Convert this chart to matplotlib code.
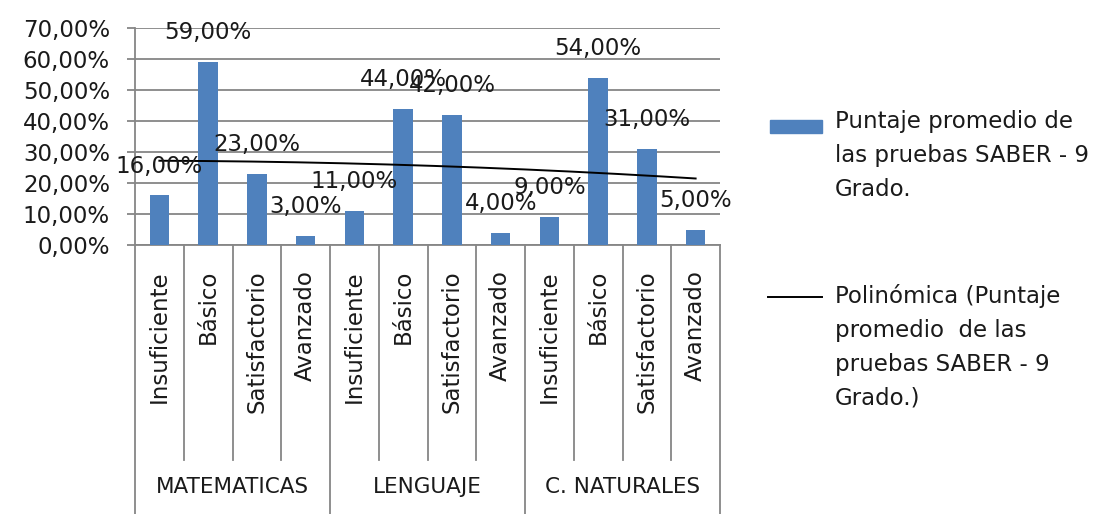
import matplotlib.pyplot as plt
from matplotlib.patches import Rectangle
from matplotlib.lines import Line2D
import numpy as np

# datos del grafico
areas = ["MATEMATICAS", "LENGUAJE", "C. NATURALES"]
niveles = ["Insuficiente", "Básico", "Satisfactorio", "Avanzado"]
matematicas = [0.16, 0.59, 0.23, 0.03]
lenguaje = [0.11, 0.44, 0.42, 0.04]
naturales = [0.09, 0.54, 0.31, 0.05]
yticks = [0.0, 0.1, 0.2, 0.3, 0.4, 0.5, 0.6, 0.7]

serie = "Puntaje promedio de\nlas pruebas SABER - 9\nGrado."
tendencia = "Polinómica (Puntaje\npromedio  de las\npruebas SABER - 9\nGrado.)"

plt.rcParams['font.family'] = ['DejaVu Sans']
fs = 16.5
gris = '#868686'
azul = '#4F81BD'
texto = '#1a1a1a'

valores = matematicas + lenguaje + naturales
n = len(valores)
x = np.arange(n)

fig = plt.figure(figsize=(11.02, 5.14), dpi=100)
W, H = 1102, 514
ax = fig.add_axes([135 / W, (H - 245) / H, (720 - 135) / W, (245 - 28) / H])

ax.bar(x, valores, width=0.4, color=azul, zorder=3)
ax.set_xlim(-0.5, n - 0.5)
ax.set_ylim(0, 0.7)
ax.set_yticks(yticks)
ax.set_yticklabels([f"{v * 100:.2f}%".replace('.', ',') for v in yticks], fontsize=fs, color=texto)
ax.yaxis.grid(True, color=gris, lw=1.3, zorder=0)
ax.tick_params(axis='y', length=6, color=gris, width=1.3, pad=12)
ax.set_xticks([])
for s in ['top', 'right']:
    ax.spines[s].set_visible(False)
ax.spines['left'].set_color(gris)
ax.spines['left'].set_linewidth(1.3)
ax.spines['bottom'].set_color(gris)
ax.spines['bottom'].set_linewidth(1.3)

# etiquetas de datos (Excel las dejo un poco arriba de las barras)
for xi, v in zip(x, valores):
    ax.annotate(f"{v * 100:.2f}%".replace('.', ','), (xi, v), xytext=(0, 21), textcoords='offset points',
                ha='center', va='center', fontsize=fs, color=texto, zorder=5)

# linea de tendencia polinomica (orden 2)
coef = np.polyfit(x + 1, valores, 2)
xs = np.linspace(0, n - 1, 200)
ax.plot(xs, np.polyval(coef, xs + 1), color='black', lw=1.4, zorder=4)

# eje de categorias en dos niveles
ah = 245 - 28
for i in range(n + 1):
    grupo = i % 4 == 0
    y_fin = -(514 - 245) / ah if grupo else -(460 - 245) / ah
    ax.plot([i - 0.5, i - 0.5], [0, y_fin], transform=ax.get_xaxis_transform(),
            color=gris, lw=1.3, clip_on=False)
for i in range(n):
    ax.text(i, -25 / ah, niveles[i % 4], transform=ax.get_xaxis_transform(), rotation=90,
            ha='center', va='top', fontsize=fs, color=texto)
for g, nombre in enumerate(areas):
    ax.text(g * 4 + 1.5, -(487 - 245) / ah, nombre, transform=ax.get_xaxis_transform(),
            ha='center', va='center', fontsize=15.5, color=texto)

# leyenda a mano
fig.add_artist(Rectangle((770 / W, (H - 133) / H), 52 / W, 13 / H, color=azul, transform=fig.transFigure))
fig.text(835 / W, (H - 110) / H, serie, fontsize=fs, va='top', ha='left', linespacing=1.6, color=texto)
fig.add_artist(Line2D([768 / W, 822 / W], [(H - 297) / H] * 2, color='black', lw=1.4, transform=fig.transFigure))
fig.text(835 / W, (H - 284) / H, tendencia, fontsize=fs, va='top', ha='left', linespacing=1.6, color=texto)

plt.savefig("out.png", dpi=100)
